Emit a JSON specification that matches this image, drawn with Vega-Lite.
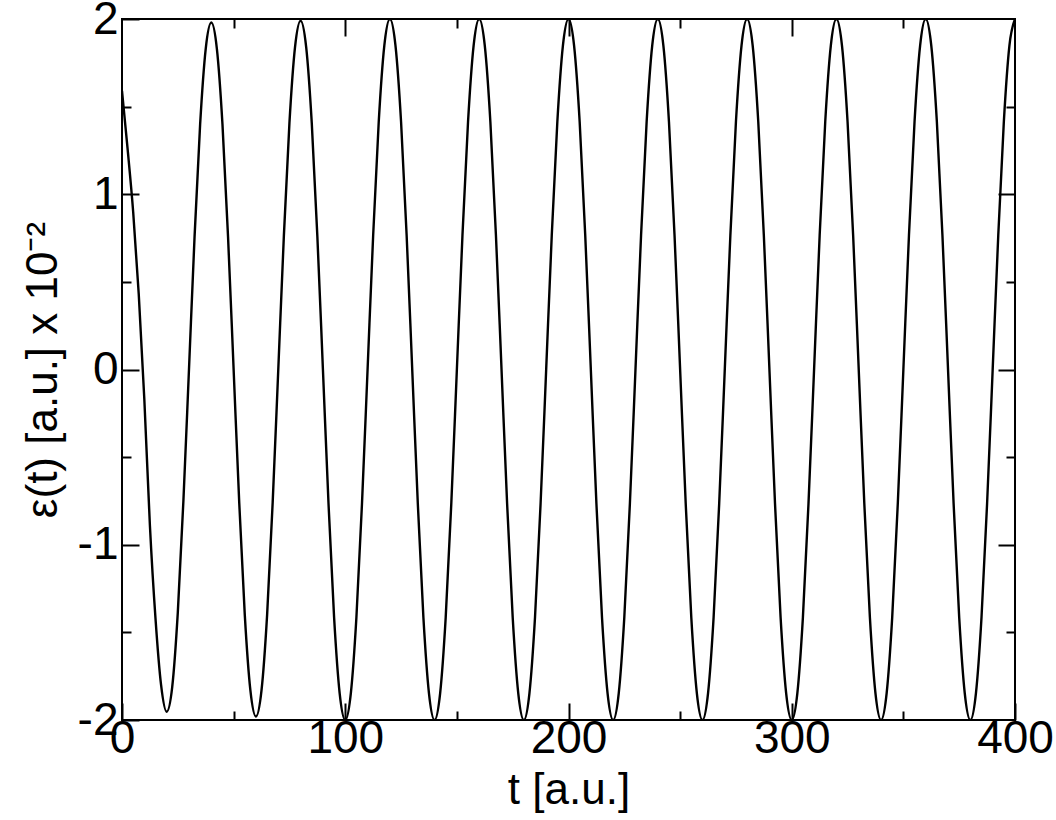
{
  "$schema": "https://vega.github.io/schema/vega-lite/v6.json",
  "autosize": {"type": "none"},
  "padding": {"left": 122, "top": 19, "right": 41, "bottom": 100},
  "width": 893,
  "height": 701,
  "background": "white",
  "data": {"values": [
    {"t":0,"e":1.59},{"t":2.5,"e":1.26},{"t":5,"e":0.90},{"t":7.5,"e":0.43},{"t":10,"e":-0.17},{"t":12.5,"e":-0.89},{"t":15,"e":-1.42},{"t":17.5,"e":-1.80},
    {"t":20,"e":-1.953},{"t":22.5,"e":-1.811},{"t":25,"e":-1.386},{"t":27.5,"e":-0.750},{"t":30,"e":0},{"t":32.5,"e":0.757},{"t":35,"e":1.400},{"t":37.5,"e":1.830},
    {"t":40,"e":1.980},{"t":42.5,"e":1.830},{"t":45,"e":1.400},{"t":47.5,"e":0.757},{"t":50,"e":0},{"t":52.5,"e":-0.757},{"t":55,"e":-1.400},{"t":57.5,"e":-1.830},
    {"t":60,"e":-1.980},{"t":62.5,"e":-1.830},{"t":65,"e":-1.400},{"t":67.5,"e":-0.757},{"t":70,"e":0},{"t":72.5,"e":0.761},{"t":75,"e":1.407},{"t":77.5,"e":1.839},
    {"t":80,"e":1.990},{"t":82.5,"e":1.839},{"t":85,"e":1.407},{"t":87.5,"e":0.761},{"t":90,"e":0},{"t":92.5,"e":-0.765},{"t":95,"e":-1.414},{"t":97.5,"e":-1.848},
    {"t":100,"e":-2},{"t":102.5,"e":-1.848},{"t":105,"e":-1.414},{"t":107.5,"e":-0.765},{"t":110,"e":0},{"t":112.5,"e":0.765},{"t":115,"e":1.414},{"t":117.5,"e":1.848},
    {"t":120,"e":2},{"t":122.5,"e":1.848},{"t":125,"e":1.414},{"t":127.5,"e":0.765},{"t":130,"e":0},{"t":132.5,"e":-0.765},{"t":135,"e":-1.414},{"t":137.5,"e":-1.848},
    {"t":140,"e":-2},{"t":142.5,"e":-1.848},{"t":145,"e":-1.414},{"t":147.5,"e":-0.765},{"t":150,"e":0},{"t":152.5,"e":0.765},{"t":155,"e":1.414},{"t":157.5,"e":1.848},
    {"t":160,"e":2},{"t":162.5,"e":1.848},{"t":165,"e":1.414},{"t":167.5,"e":0.765},{"t":170,"e":0},{"t":172.5,"e":-0.765},{"t":175,"e":-1.414},{"t":177.5,"e":-1.848},
    {"t":180,"e":-2},{"t":182.5,"e":-1.848},{"t":185,"e":-1.414},{"t":187.5,"e":-0.765},{"t":190,"e":0},{"t":192.5,"e":0.765},{"t":195,"e":1.414},{"t":197.5,"e":1.848},
    {"t":200,"e":2},{"t":202.5,"e":1.848},{"t":205,"e":1.414},{"t":207.5,"e":0.765},{"t":210,"e":0},{"t":212.5,"e":-0.765},{"t":215,"e":-1.414},{"t":217.5,"e":-1.848},
    {"t":220,"e":-2},{"t":222.5,"e":-1.848},{"t":225,"e":-1.414},{"t":227.5,"e":-0.765},{"t":230,"e":0},{"t":232.5,"e":0.765},{"t":235,"e":1.414},{"t":237.5,"e":1.848},
    {"t":240,"e":2},{"t":242.5,"e":1.848},{"t":245,"e":1.414},{"t":247.5,"e":0.765},{"t":250,"e":0},{"t":252.5,"e":-0.765},{"t":255,"e":-1.414},{"t":257.5,"e":-1.848},
    {"t":260,"e":-2},{"t":262.5,"e":-1.848},{"t":265,"e":-1.414},{"t":267.5,"e":-0.765},{"t":270,"e":0},{"t":272.5,"e":0.765},{"t":275,"e":1.414},{"t":277.5,"e":1.848},
    {"t":280,"e":2},{"t":282.5,"e":1.848},{"t":285,"e":1.414},{"t":287.5,"e":0.765},{"t":290,"e":0},{"t":292.5,"e":-0.765},{"t":295,"e":-1.414},{"t":297.5,"e":-1.848},
    {"t":300,"e":-2},{"t":302.5,"e":-1.848},{"t":305,"e":-1.414},{"t":307.5,"e":-0.765},{"t":310,"e":0},{"t":312.5,"e":0.765},{"t":315,"e":1.414},{"t":317.5,"e":1.848},
    {"t":320,"e":2},{"t":322.5,"e":1.848},{"t":325,"e":1.414},{"t":327.5,"e":0.765},{"t":330,"e":0},{"t":332.5,"e":-0.765},{"t":335,"e":-1.414},{"t":337.5,"e":-1.848},
    {"t":340,"e":-2},{"t":342.5,"e":-1.848},{"t":345,"e":-1.414},{"t":347.5,"e":-0.765},{"t":350,"e":0},{"t":352.5,"e":0.765},{"t":355,"e":1.414},{"t":357.5,"e":1.848},
    {"t":360,"e":2},{"t":362.5,"e":1.848},{"t":365,"e":1.414},{"t":367.5,"e":0.765},{"t":370,"e":0},{"t":372.5,"e":-0.765},{"t":375,"e":-1.414},{"t":377.5,"e":-1.848},
    {"t":380,"e":-2},{"t":382.5,"e":-1.848},{"t":385,"e":-1.414},{"t":387.5,"e":-0.765},{"t":390,"e":0},{"t":392.5,"e":0.765},{"t":395,"e":1.414},{"t":397.5,"e":1.848},
    {"t":400,"e":2}
  ]},
  "layer": [
    {
      "mark": {"type": "line", "color": "black", "strokeWidth": 2.4, "interpolate": "monotone", "clip": true},
      "encoding": {
        "x": {"field": "t", "type": "quantitative", "scale": {"domain": [0, 400], "nice": false, "zero": false},
              "axis": {"orient": "bottom", "values": [0, 100, 200, 300, 400], "tickSize": -17, "labelPadding": 13, "title": "t [a.u.]", "titlePadding": 7,
                       "labelExpr": "datum.value < 0 ? '-' + abs(datum.value) : '' + datum.value"}},
        "y": {"field": "e", "type": "quantitative", "scale": {"domain": [-2, 2], "nice": false, "zero": false},
              "axis": {"orient": "left", "values": [-2, -1, 0, 1, 2], "tickSize": -17, "labelPadding": 21, "title": "ε(t) [a.u.] x 10⁻²", "titlePadding": 12,
                       "labelExpr": "datum.value < 0 ? '-' + abs(datum.value) : '' + datum.value"}}
      }
    },
    {
      "mark": {"type": "line", "opacity": 0},
      "encoding": {
        "x": {"field": "t", "type": "quantitative", "axis": {"orient": "top", "values": [100, 200, 300], "tickSize": -17, "labels": false, "title": null}},
        "y": {"field": "e", "type": "quantitative", "axis": {"orient": "right", "values": [-1, 0, 1], "tickSize": -17, "labels": false, "title": null}}
      }
    },
    {
      "mark": {"type": "line", "opacity": 0},
      "encoding": {
        "x": {"field": "t", "type": "quantitative", "axis": {"orient": "bottom", "values": [50, 150, 250, 350], "tickSize": -9, "labels": false, "title": null}},
        "y": {"field": "e", "type": "quantitative", "axis": {"orient": "left", "values": [-1.5, -0.5, 0.5, 1.5], "tickSize": -9, "labels": false, "title": null}}
      }
    },
    {
      "mark": {"type": "line", "opacity": 0},
      "encoding": {
        "x": {"field": "t", "type": "quantitative", "axis": {"orient": "top", "values": [50, 150, 250, 350], "tickSize": -9, "labels": false, "title": null}},
        "y": {"field": "e", "type": "quantitative", "axis": {"orient": "right", "values": [-1.5, -0.5, 0.5, 1.5], "tickSize": -9, "labels": false, "title": null}}
      }
    }
  ],
  "resolve": {"axis": {"x": "independent", "y": "independent"}},
  "config": {
    "view": {"stroke": "black", "strokeWidth": 2},
    "axis": {
      "domain": false, "grid": false, "tickColor": "black", "tickWidth": 2,
      "labelFont": "Liberation Sans", "labelFontSize": 46, "labelColor": "black",
      "labelFlush": false, "labelOverlap": false, "labelBound": false,
      "titleFont": "Liberation Sans", "titleFontSize": 44, "titleFontWeight": "normal", "titleColor": "black"
    }
  }
}
